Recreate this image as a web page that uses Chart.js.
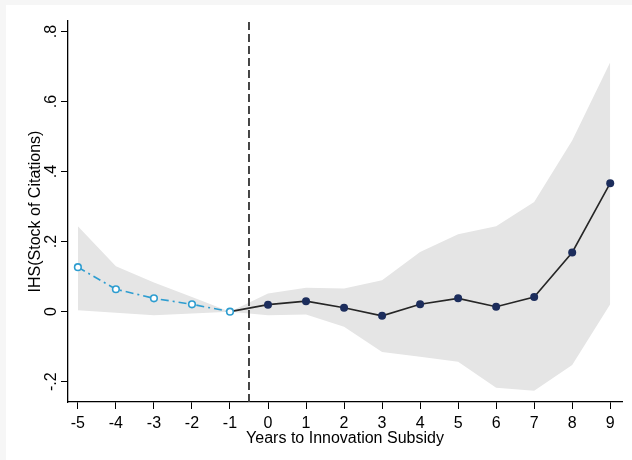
<!DOCTYPE html>
<html lang="en">
<head>
    <meta charset="UTF-8">
    <title>Event study: IHS(Stock of Citations)</title>
    <script src="https://cdn.jsdelivr.net/npm/chart.js@4.4.0/dist/chart.umd.min.js"></script>
    <style>
        html, body { margin: 0; padding: 0; background: #fff; }
        #wrap { width: 632px; height: 460px; }
    </style>
</head>
<body>
    <div id="wrap"><canvas id="eventChart" width="632" height="460"></canvas></div>

    <script>
        // years relative to the subsidy
        var years = [-5, -4, -3, -2, -1, 0, 1, 2, 3, 4, 5, 6, 7, 8, 9];
        // point estimates
        var coef = [0.127, 0.064, 0.038, 0.021, 0, 0.020, 0.030, 0.011, -0.012, 0.021, 0.038, 0.014, 0.042, 0.169, 0.367];
        // confidence band
        var ciUpper = [0.244, 0.130, 0.083, 0.042, 0, 0.052, 0.068, 0.066, 0.090, 0.170, 0.221, 0.244, 0.313, 0.489, 0.712];
        var ciLower = [0.004, -0.003, -0.010, -0.005, 0, -0.010, -0.008, -0.043, -0.115, -0.129, -0.143, -0.217, -0.226, -0.152, 0.021];
        var eventLine = -0.5;

        var xTicks = [-5, -4, -3, -2, -1, 0, 1, 2, 3, 4, 5, 6, 7, 8, 9];
        var yTicks = [-0.2, 0, 0.2, 0.4, 0.6, 0.8];
        var yTickLabels = ['-.2', '0', '.2', '.4', '.6', '.8'];

        var yMin = -0.258, yMax = 0.83;

        function pts(xs, ys) {
            return xs.map(function (x, i) { return { x: x, y: ys[i] }; });
        }

        var pre = [], post = [];
        years.forEach(function (y, i) {
            if (y <= -1) pre.push({ x: y, y: coef[i] });
            if (y >= -1) post.push({ x: y, y: coef[i] });
        });

        var bgPlugin = {
            id: 'bg',
            beforeDraw: function (chart) {
                var c = chart.ctx;
                c.save();
                c.fillStyle = '#f6f6f6';
                c.fillRect(0, 0, chart.width, chart.height);
                c.fillStyle = '#ffffff';
                c.fillRect(6, 5, chart.width - 6, chart.height - 5);
                c.restore();
            }
        };

        var font = { family: '"Liberation Sans", Arial, sans-serif', size: 16 };
        var titleFont = { family: '"Liberation Sans", Arial, sans-serif', size: 16 };

        new Chart(document.getElementById('eventChart').getContext('2d'), {
            type: 'line',
            data: {
                datasets: [
                    {
                        data: pre,
                        borderColor: '#2e9dd0',
                        borderWidth: 1.6,
                        borderDash: [8, 4, 2, 4],
                        pointRadius: 3.3,
                        pointBorderWidth: 1.6,
                        pointBorderColor: '#2e9dd0',
                        pointBackgroundColor: '#ffffff',
                        fill: false
                    },
                    {
                        data: post,
                        borderColor: '#262626',
                        borderWidth: 1.6,
                        pointRadius: post.map(function (p) { return p.x === -1 ? 0 : 4; }),
                        pointBorderWidth: 0,
                        pointBackgroundColor: '#1c2d5c',
                        fill: false
                    },
                    {
                        data: [{ x: eventLine, y: yMin }, { x: eventLine, y: yMax }],
                        borderColor: '#333333',
                        borderWidth: 1.8,
                        borderDash: [8, 4],
                        pointRadius: 0,
                        fill: false
                    },
                    {
                        data: pts(years, ciUpper),
                        borderWidth: 0,
                        borderColor: 'rgba(0,0,0,0)',
                        backgroundColor: '#e5e5e5',
                        pointRadius: 0,
                        fill: '+1'
                    },
                    {
                        data: pts(years, ciLower),
                        borderWidth: 0,
                        borderColor: 'rgba(0,0,0,0)',
                        pointRadius: 0,
                        fill: false
                    }
                ]
            },
            options: {
                responsive: false,
                animation: false,
                layout: { padding: { left: 26, top: 21, right: 10, bottom: 12 } },
                plugins: { legend: { display: false }, tooltip: { enabled: false } },
                scales: {
                    x: {
                        type: 'linear',
                        min: -5.26,
                        max: 9.31,
                        afterBuildTicks: function (s) { s.ticks = xTicks.map(function (v) { return { value: v }; }); },
                        afterFit: function (s) { s.height = 46; },
                        grid: { display: true, drawOnChartArea: false, drawTicks: true, tickLength: 7, color: '#000', lineWidth: 1 },
                        border: { display: true, color: '#000', width: 1.3 },
                        ticks: { color: '#000', font: font, padding: 5, maxRotation: 0, autoSkip: false },
                        title: { display: true, text: 'Years to Innovation Subsidy', color: '#000', font: titleFont, padding: { top: 0, bottom: 0 } }
                    },
                    y: {
                        min: yMin,
                        max: yMax,
                        afterBuildTicks: function (s) { s.ticks = yTicks.map(function (v) { return { value: v }; }); },
                        afterFit: function (s) { s.width = 42; },
                        grid: { display: true, drawOnChartArea: false, drawTicks: true, tickLength: 7, color: '#000', lineWidth: 1 },
                        border: { display: true, color: '#000', width: 1.3 },
                        ticks: {
                            color: '#000', font: font, padding: 0,
                            minRotation: 90, maxRotation: 90, crossAlign: 'center',
                            callback: function (v) {
                                var i = yTicks.findIndex(function (t) { return Math.abs(t - v) < 1e-9; });
                                return i >= 0 ? yTickLabels[i] : '';
                            }
                        },
                        title: { display: true, text: 'IHS(Stock of Citations)', color: '#000', font: titleFont, padding: { top: 0, bottom: 0 } }
                    }
                }
            },
            plugins: [bgPlugin]
        });
    </script>
</body>
</html>
